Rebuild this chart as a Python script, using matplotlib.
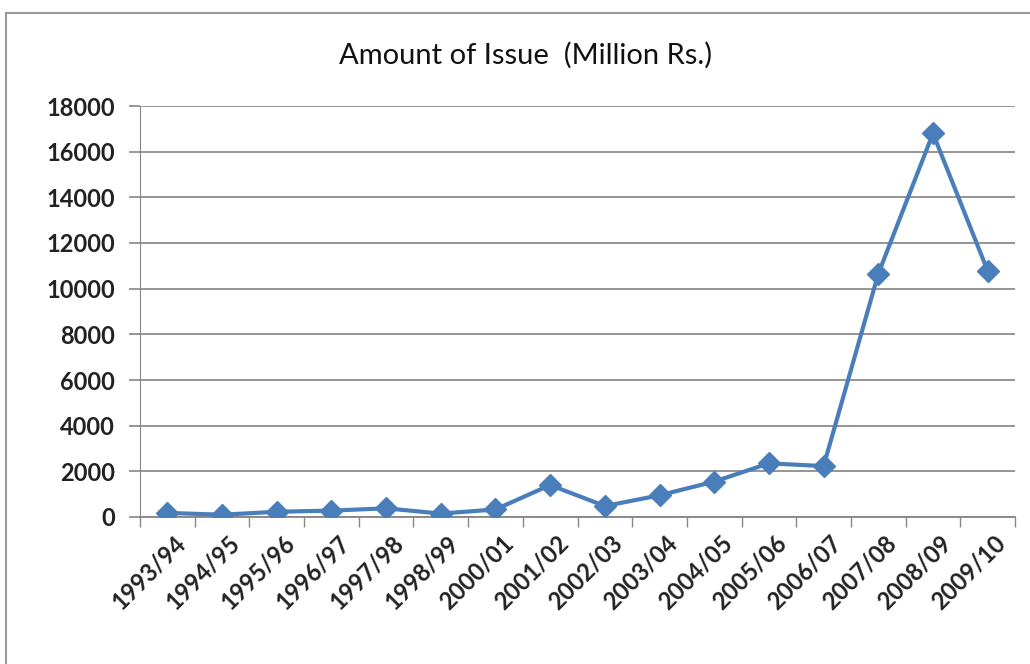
import matplotlib
matplotlib.use("Agg")
import matplotlib.pyplot as plt
from matplotlib.patches import Rectangle
import matplotlib.transforms as mtransforms
import numpy as np

categories = ["1993/94", "1994/95", "1995/96", "1996/97", "1997/98", "1998/99",
              "2000/01", "2001/02", "2002/03", "2003/04", "2004/05", "2005/06",
              "2006/07", "2007/08", "2008/09", "2009/10"]
values = [180, 100, 230, 280, 380, 150, 330, 1400, 480, 950, 1550, 2350,
          2230, 10650, 16800, 10780]
yticks = [0, 2000, 4000, 6000, 8000, 10000, 12000, 14000, 16000, 18000]

plt.rcParams['font.family'] = ['Lato', 'DejaVu Sans']

fig = plt.figure(figsize=(10.30, 6.64), dpi=100)
ax = fig.add_axes([140/1030, 1-517/664, 875/1030, 411/664])

x = np.arange(len(categories))
ax.plot(x, values, color="#4A7EBB", linewidth=3.0, marker="D", markersize=11,
        markerfacecolor="#4A7EBB", markeredgecolor="#4A7EBB", zorder=3)

ax.set_xlim(-0.5, len(categories) - 0.5)
ax.set_ylim(0, 18000)
ax.set_yticks(yticks)
ax.set_yticklabels([str(v) for v in yticks], fontsize=17, fontweight='bold',
                   color='#222222')
ax.set_xticks(x)
ax.set_xticklabels(categories, rotation=45, ha='right', rotation_mode='anchor',
                   fontsize=17, fontweight='bold', color='#222222')
ax.tick_params(axis='x', length=0, pad=10)
offset = mtransforms.ScaledTranslation(6/100, 0, fig.dpi_scale_trans)
for lbl in ax.get_xticklabels():
    lbl.set_transform(lbl.get_transform() + offset)
ax.set_xticks(np.arange(-0.5, len(categories), 1), minor=True)
ax.tick_params(axis='x', which='minor', length=7, color='#868686', width=1)
ax.tick_params(axis='y', length=8, color='#868686', width=1.2, pad=10)

ax.grid(axis='y', color='#8c8c8c', linewidth=1.3)
ax.set_axisbelow(True)
for s in ['top', 'right']:
    ax.spines[s].set_visible(False)
ax.spines['left'].set_color('#868686')
ax.spines['bottom'].set_color('#868686')
ax.spines['bottom'].set_linewidth(1.3)

fig.text(526/1030, 1 - 55/664, "Amount of Issue  (Million Rs.)", ha='center', va='center',
         fontsize=21, color='#111111')

fig.patches.append(Rectangle((6/1030, -0.01), 1.2, 1 - 13/664 + 0.01,
                             transform=fig.transFigure, fill=False,
                             edgecolor='#9a9a9a', linewidth=1.5))

fig.savefig("out.png", dpi=100)
